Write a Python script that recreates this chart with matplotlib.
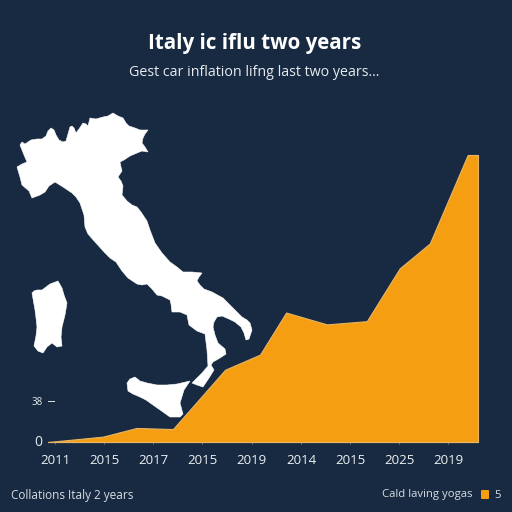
import matplotlib
matplotlib.use("Agg")
import matplotlib.pyplot as plt
from matplotlib.patches import Polygon, FancyBboxPatch
from matplotlib.transforms import ScaledTranslation

plt.rcParams["font.family"] = ["Open Sans", "DejaVu Sans"]

BG = "#172a41"
ORANGE = "#f59e12"

# area series, x given as position along the tick index
area_x = [-0.14, 0.98, 1.66, 2.40, 3.46, 4.17, 4.70, 5.53, 6.34, 7.01, 7.62, 8.39, 8.60]
area_y = [0, 5, 13, 12, 67, 81, 120, 109, 112, 161, 184, 266, 266]
tick_labels = ["2011", "2015", "2017", "2015", "2019", "2014", "2015", "2025", "2019"]
y_ticks = [0, 38]
y_labels = ["0", "38"]

# map outlines in image pixels
mainland = [(20, 145), (22, 142), (25, 144), (31, 140), (37, 139), (42, 139), (46, 136), (48, 131), (51, 128),
            (54, 130), (56, 135), (59, 140), (63, 142), (66, 141), (68, 134), (70, 127), (72, 126), (74, 128),
            (76, 133), (79, 129), (83, 123), (86, 124), (88, 126), (90, 118), (96, 119), (103, 117),
            (108, 116), (113, 113), (118, 116), (123, 118), (126, 123), (129, 126), (135, 128), (140, 130),
            (148, 130), (145, 134), (143, 138), (142, 143), (145, 147), (148, 152), (142, 151), (137, 153),
            (130, 156), (124, 160), (120, 162), (121, 167), (122, 171), (118, 177), (121, 181), (123, 186),
            (122, 195), (127, 201), (132, 205), (137, 207), (141, 212), (147, 221), (150, 230), (155, 243),
            (162, 253), (170, 262), (177, 267), (183, 272), (192, 272), (202, 273), (199, 277), (197, 281),
            (200, 285), (204, 289), (212, 292), (223, 298), (232, 307), (242, 317), (247, 320), (250, 323),
            (252, 330), (249, 339), (246, 340), (244, 333), (241, 327), (235, 322), (229, 319), (222, 316),
            (217, 317), (214, 322), (213, 327), (215, 335), (218, 343), (225, 349), (226, 354), (220, 358),
            (213, 362), (211, 365), (214, 370), (209, 378), (203, 387), (197, 385), (192, 383), (197, 378),
            (202, 373), (208, 366), (207, 350), (205, 334), (197, 331), (189, 325), (187, 315), (180, 312),
            (172, 312), (171, 304), (170, 300), (162, 296), (157, 295), (152, 289), (147, 284), (142, 285),
            (137, 284), (128, 278), (122, 271), (116, 262), (110, 258), (105, 253), (95, 242), (88, 234),
            (85, 227), (84, 215), (80, 203), (76, 197), (72, 193), (63, 187), (55, 182), (49, 186), (45, 192),
            (40, 195), (32, 198), (29, 191), (22, 185), (20, 177), (17, 167), (22, 164), (27, 162), (24, 155)]
sardinia = [(32, 293), (34, 291), (37, 290), (42, 290), (50, 284), (58, 281), (62, 288), (64, 295),
            (67, 303), (65, 315), (62, 327), (61, 337), (62, 346), (57, 347), (52, 343), (47, 347),
            (43, 353), (38, 351), (34, 346), (36, 336), (37, 327), (36, 318), (35, 310)]
sicily = [(127, 383), (130, 379), (135, 377), (140, 381), (147, 383), (157, 385), (167, 385), (177, 384),
          (190, 381), (184, 390), (180, 403), (183, 414), (180, 417), (170, 417), (163, 412), (153, 405),
          (146, 400), (140, 397), (133, 394), (128, 391)]

fig = plt.figure(figsize=(5.12, 5.12), dpi=100, facecolor=BG)

# map layer sits under the chart
map_ax = fig.add_axes([0, 0, 1, 1])
map_ax.set_xlim(0, 512)
map_ax.set_ylim(512, 0)
map_ax.axis("off")
for shape in [mainland, sardinia, sicily]:
    map_ax.add_patch(Polygon(shape, closed=True, facecolor="white", edgecolor="white", linewidth=0.4))

# chart axes: px 48..478 across, px 442..155 up
ax = fig.add_axes([48 / 512, (512 - 442) / 512, 430 / 512, 287 / 512])
ax.patch.set_alpha(0)
ax.fill_between(area_x, area_y, 0, facecolor=ORANGE, edgecolor="#e8b566", linewidth=0.8, clip_on=False)
ax.set_xlim(-0.14, 8.60)
ax.set_ylim(0, 266)
for side in ["top", "right", "left"]:
    ax.spines[side].set_visible(False)
ax.spines["bottom"].set_color("#e8b566")
ax.spines["bottom"].set_linewidth(0.8)

ax.set_xticks(range(len(tick_labels)))
ax.set_xticklabels(tick_labels, fontsize=9.5, color="#eef1f4")
ax.tick_params(axis="x", length=1.5, width=0.5, color="#8d8f8c", pad=7)
ax.set_yticks(y_ticks)
ax.set_yticklabels(y_labels, color="#e6eaee")
ax.tick_params(axis="y", length=0, pad=4)
ax.get_yticklabels()[0].set_fontsize(10)
ax.get_yticklabels()[1].set_fontsize(7)
zero_label = ax.get_yticklabels()[0]
zero_label.set_transform(zero_label.get_transform() + ScaledTranslation(0, 2 / 100, fig.dpi_scale_trans))
ax.plot([-0.14, -0.02], [38, 38], color="#dfe4ea", linewidth=0.7, clip_on=False)

fig.text(255 / 512, 1 - 44 / 512, "Italy ic iflu two years", ha="center", va="center",
         fontsize=14.8, fontweight="bold", color="white")
fig.text(254 / 512, 1 - 72.5 / 512, "Gest car inflation lifng last two years...", ha="center", va="center",
         fontsize=10.3, color="#e6eaee")
fig.text(11 / 512, 1 - 495 / 512, "Collations Italy 2 years", ha="left", va="center",
         fontsize=8.5, color="#d8dde3")
fig.text(382 / 512, 1 - 495 / 512, "Cald laving yogas", ha="left", va="center",
         fontsize=8.2, color="#d8dde3")
fig.add_artist(FancyBboxPatch((482 / 512, 1 - 498 / 512), 6 / 512, 7 / 512, boxstyle="round,pad=0.002",
                              transform=fig.transFigure, facecolor=ORANGE, edgecolor="none"))
fig.text(497.5 / 512, 1 - 495 / 512, "5", ha="center", va="center", fontsize=8.2, color="#d8dde3")

fig.savefig("out.png", dpi=100, facecolor=BG)
